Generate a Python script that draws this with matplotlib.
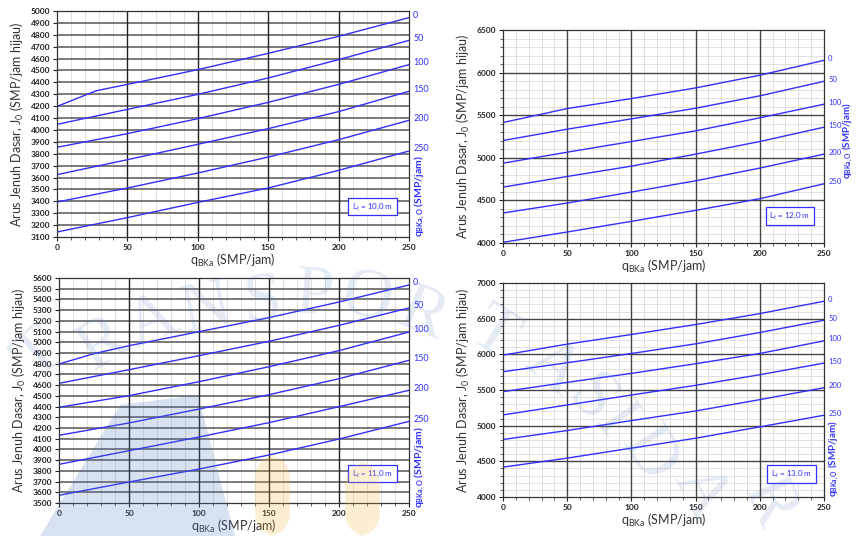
import numpy as np
import matplotlib
matplotlib.use('Agg')
from matplotlib import pyplot as plt
from matplotlib.ticker import MultipleLocator
from matplotlib.patches import Polygon, FancyBboxPatch

plt.rcParams['font.family'] = ['Lato', 'DejaVu Sans']
plt.rcParams['mathtext.fontset'] = 'custom'
plt.rcParams['mathtext.rm'] = 'Lato'
plt.rcParams['mathtext.it'] = 'Lato:italic'
plt.rcParams['mathtext.bf'] = 'Lato:bold'

# q_BKa values where curves were read
q_bka = [0, 50, 100, 150, 200, 250]
q_bkao = ['0', '50', '100', '150', '200', '250']

# Lt = 10,0 m
lt10_x0 = [0, 28, 50, 100, 150, 200, 250]
lt10_0 = [4198, 4330, 4383, 4507, 4644, 4787, 4944]
lt10_50 = [4047, 4173, 4299, 4437, 4591, 4753]
lt10_100 = [3854, 3969, 4095, 4232, 4383, 4549]
lt10_150 = [3624, 3750, 3879, 4011, 4154, 4325]
lt10_200 = [3394, 3512, 3638, 3772, 3918, 4081]
lt10_250 = [3142, 3263, 3391, 3512, 3660, 3823]

# Lt = 12,0 m
lt12_0 = [5414, 5578, 5695, 5820, 5969, 6144]
lt12_50 = [5203, 5336, 5457, 5582, 5727, 5898]
lt12_100 = [4937, 5066, 5191, 5316, 5469, 5629]
lt12_150 = [4656, 4781, 4902, 5043, 5191, 5359]
lt12_200 = [4352, 4469, 4598, 4730, 4879, 5043]
lt12_250 = [4008, 4129, 4254, 4383, 4520, 4695]

# Lt = 11,0 m
lt11_x0 = [0, 25, 50, 100, 150, 200, 250]
lt11_0 = [4797, 4894, 4968, 5099, 5230, 5376, 5535]
lt11_50 = [4617, 4744, 4875, 5009, 5158, 5320]
lt11_100 = [4393, 4502, 4632, 4772, 4922, 5096]
lt11_150 = [4132, 4247, 4377, 4511, 4660, 4832]
lt11_200 = [3861, 3988, 4116, 4250, 4399, 4552]
lt11_250 = [3572, 3696, 3817, 3948, 4097, 4262]

# Lt = 13,0 m
lt13_0 = [5989, 6143, 6278, 6418, 6571, 6744]
lt13_50 = [5756, 5882, 6012, 6147, 6306, 6478]
lt13_100 = [5477, 5607, 5733, 5868, 6012, 6189]
lt13_150 = [5151, 5290, 5430, 5565, 5714, 5877]
lt13_200 = [4806, 4932, 5071, 5206, 5365, 5532]
lt13_250 = [4419, 4545, 4685, 4824, 4983, 5146]

# faint watermark over the page
wm_letters = list('TRANSPORTASIDAR')
wm_x = [40, 104, 152, 207, 262, 314, 366, 423, 494, 552, 590, 614, 648, 700, 768]
wm_y = [355, 345, 323, 310, 303, 297, 300, 316, 335, 368, 401, 422, 455, 492, 503]
wm_rot = [42, 32, 22, 12, 4, -4, -12, -22, -32, -40, -48, -54, -58, -62, -66]

BLUE = '#3030ff'
W, H = 856, 536

def px_axes(fig, left, right, top, bottom):
    return fig.add_axes([left/W, 1-bottom/H, (right-left)/W, (bottom-top)/H])

def draw_panel(ax, curves, ylim, ymajor, yminor, lt_text, box_xy, qlab_xy, dense):
    for xs, ys in curves:
        ax.plot(xs, ys, color=BLUE, lw=1.0, zorder=3)
    ax.set_xlim(0, 250)
    ax.set_ylim(*ylim)
    ax.xaxis.set_major_locator(MultipleLocator(50))
    ax.xaxis.set_minor_locator(MultipleLocator(10))
    ax.yaxis.set_major_locator(MultipleLocator(ymajor))
    # grid drawn by hand so that the dark lines sit above the light ones
    for x in range(10, 250, 10):
        if x % 50:
            ax.axvline(x, color='#dcdcdc', lw=0.6, zorder=0.5)
    if yminor:
        ax.yaxis.set_minor_locator(MultipleLocator(yminor))
        for y in np.arange(ylim[0] + yminor, ylim[1], yminor):
            if y % ymajor:
                ax.axhline(y, color='#dcdcdc', lw=0.6, zorder=0.5)
    for y in np.arange(ylim[0] + ymajor, ylim[1], ymajor):
        ax.axhline(y, color='#555555' if dense else '#444444', lw=1.1 if dense else 1.0, zorder=1)
    for x in range(50, 250, 50):
        ax.axvline(x, color='#222222' if dense else '#444444', lw=1.0, zorder=1.1)
    ax.tick_params(which='major', length=3, width=0.8, labelsize=6,
                   colors='#222222', pad=2)
    ax.tick_params(which='minor', length=2, width=0.6, color='#444444')
    for lab in ax.get_xticklabels() + ax.get_yticklabels():
        lab.set_fontweight('bold')
    for s in ax.spines.values():
        s.set_color('#333333')
        s.set_linewidth(0.9)
        s.set_zorder(4)
    ax.set_xlabel('q$_{\\mathrm{BKa}}$ (SMP/jam)', fontsize=9, color='#333333', labelpad=1)
    ax.set_ylabel('Arus Jenuh Dasar, J$_{\\mathrm{0}}$ (SMP/jam hijau)', fontsize=9,
                  color='#333333', labelpad=3)
    # labels at the end of each curve
    fs = 6.5 if dense else 5.5
    for (xs, ys), lab in zip(curves, q_bkao):
        ax.annotate(lab, xy=(250, ys[-1]), xytext=(3, 1.5), textcoords='offset points',
                    color=BLUE, fontsize=fs, va='center', ha='left', annotation_clip=False)
    ax.text(box_xy[0], box_xy[1], lt_text, transform=ax.transAxes, fontsize=5.8,
            color=BLUE, ha='center', va='center', zorder=5,
            bbox=dict(boxstyle='square,pad=0.45', fc='white', ec=BLUE, lw=0.9))
    ax.text(qlab_xy[0], qlab_xy[1], 'q$_{\\mathbf{BKa,O}}$ (SMP/jam)', transform=ax.transAxes,
            rotation=90, color=BLUE, fontsize=7.5 if dense else 7, fontweight='bold',
            ha='center', va='center')

fig = plt.figure(figsize=(W/100, H/100), dpi=100)

ax1 = px_axes(fig, 57, 409, 11, 237)
c1 = [(lt10_x0, lt10_0), (q_bka, lt10_50), (q_bka, lt10_100), (q_bka, lt10_150),
      (q_bka, lt10_200), (q_bka, lt10_250)]
draw_panel(ax1, c1, (3100, 5000), 100, None, 'L$_t$ = 10,0 m', (0.896, 0.135), (1.03, 0.18), True)

ax2 = px_axes(fig, 503, 824, 30, 243)
c2 = [(q_bka, lt12_0), (q_bka, lt12_50), (q_bka, lt12_100), (q_bka, lt12_150),
      (q_bka, lt12_200), (q_bka, lt12_250)]
draw_panel(ax2, c2, (4000, 6500), 500, 100, 'L$_t$ = 12,0 m', (0.893, 0.127), (1.075, 0.48), False)

ax3 = px_axes(fig, 59, 409, 278, 503)
c3 = [(lt11_x0, lt11_0), (q_bka, lt11_50), (q_bka, lt11_100), (q_bka, lt11_150),
      (q_bka, lt11_200), (q_bka, lt11_250)]
draw_panel(ax3, c3, (3500, 5600), 100, None, 'L$_t$ = 11,0 m', (0.896, 0.131), (1.03, 0.16), True)

ax4 = px_axes(fig, 503, 824, 283, 497)
c4 = [(q_bka, lt13_0), (q_bka, lt13_50), (q_bka, lt13_100), (q_bka, lt13_150),
      (q_bka, lt13_200), (q_bka, lt13_250)]
draw_panel(ax4, c4, (4000, 7000), 500, 100, 'L$_t$ = 13,0 m', (0.899, 0.107), (1.03, 0.18), False)

# watermark: letters on an arc, a blue block and two yellow pillars
for ch, x, y, r in zip(wm_letters, wm_x, wm_y, wm_rot):
    fig.text(x/W, 1-y/H, ch, fontsize=50, family='Liberation Serif', color='#5b82c0',
             alpha=0.16, rotation=r, ha='center', va='center', zorder=10)
blue_block = Polygon([(120/W, 1-405/H), (198/W, 1-395/H), (235/W, 0), (40/W, 0)],
                     closed=True, transform=fig.transFigure, fc='#4f78b8', ec='none',
                     alpha=0.22, zorder=10)
fig.patches.append(blue_block)
for x0, x1, y0 in [(255, 290, 455), (345, 380, 462)]:
    pillar = FancyBboxPatch((x0/W, 0), (x1-x0)/W, (H-y0)/H, boxstyle='round,pad=0,rounding_size=0.03',
                            transform=fig.transFigure, fc='#f2b632', ec='none', alpha=0.22,
                            zorder=10, mutation_aspect=W/H)
    fig.patches.append(pillar)

fig.savefig('out.png', dpi=100)
